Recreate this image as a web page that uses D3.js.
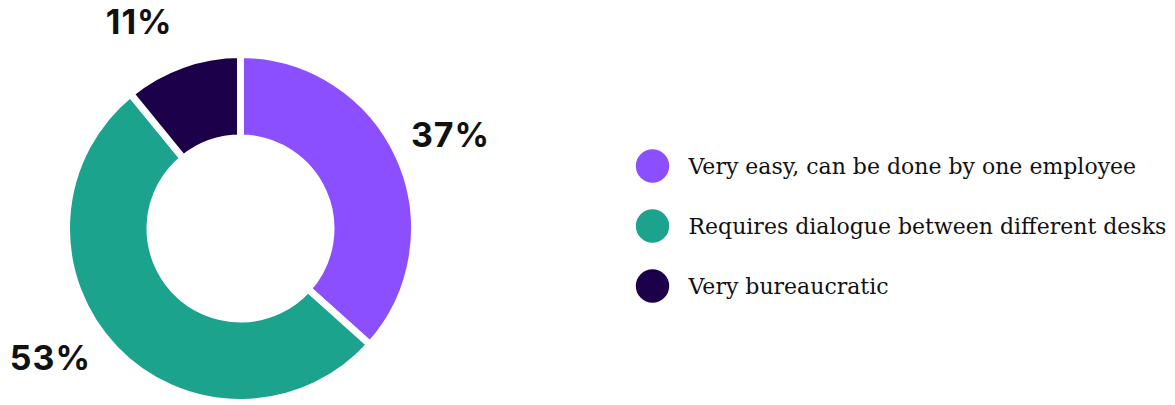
<!DOCTYPE html>
<html>
<head>
<meta charset="utf-8">
<script src="https://cdn.jsdelivr.net/npm/d3@7"></script>
<style>
  body { margin: 0; background: #fff; }
  svg { display: block; }
</style>
</head>
<body>
<svg width="1175" height="405"></svg>
<script>
const categories = [
  'Very easy, can be done by one employee',
  'Requires dialogue between different desks',
  'Very bureaucratic'
];
const values = [37, 53, 11];
const colors = ['#8c4fff', '#1ba38e', '#1d004a'];

const svg = d3.select('svg');
const width = +svg.attr('width');
const height = +svg.attr('height');

const cx = 240.5, cy = 228.5;
const outerR = 174, innerR = 90.5;
const labelR = 230;

const pie = d3.pie().sort(null).value((d) => d);
const arcs = pie(values);

const arc = d3.arc().innerRadius(innerR).outerRadius(outerR);

const g = svg.append('g').attr('transform', `translate(${cx},${cy})`);

g.selectAll('path')
  .data(arcs)
  .enter().append('path')
    .attr('d', arc)
    .attr('fill', (d, i) => colors[i])
    .attr('stroke', '#fff')
    .attr('stroke-width', 7)
    .attr('stroke-linejoin', 'miter');

// percentage labels on a ring outside the donut, kept inside the picture
const labelPos = (d) => {
  const a = (d.startAngle + d.endAngle) / 2;
  let x = labelR * Math.sin(a);
  let y = -labelR * Math.cos(a);
  const minY = 22 - cy, maxY = 358 - cy;
  if (y < minY || y > maxY) {
    y = Math.max(minY, Math.min(maxY, y));
    x = Math.sign(x) * Math.sqrt(labelR * labelR - y * y);
  }
  return [x, y];
};

g.selectAll('text.pct')
  .data(arcs)
  .enter().append('text')
    .attr('class', 'pct')
    .attr('x', (d) => labelPos(d)[0])
    .attr('y', (d) => labelPos(d)[1])
    .attr('dy', '0.36em')
    .attr('text-anchor', 'middle')
    .attr('font-family', 'Inter, sans-serif')
    .attr('font-weight', 700)
    .attr('font-size', 34)
    .attr('letter-spacing', 1)
    .attr('fill', '#111')
    .text((d) => `${d.data}%`);

// legend
const legendY = d3.scalePoint()
  .domain(categories)
  .range([166, 286]);

const legend = svg.append('g');

const item = legend.selectAll('g')
  .data(categories)
  .enter().append('g')
    .attr('transform', (d) => `translate(652.5,${legendY(d)})`);

item.append('circle')
  .attr('r', 16.7)
  .attr('fill', (d, i) => colors[i]);

item.append('text')
  .attr('x', 36)
  .attr('dy', '0.35em')
  .attr('font-family', '"DejaVu Serif", serif')
  .attr('font-size', 22)
  .attr('fill', '#111')
  .text((d) => d);
</script>
</body>
</html>
